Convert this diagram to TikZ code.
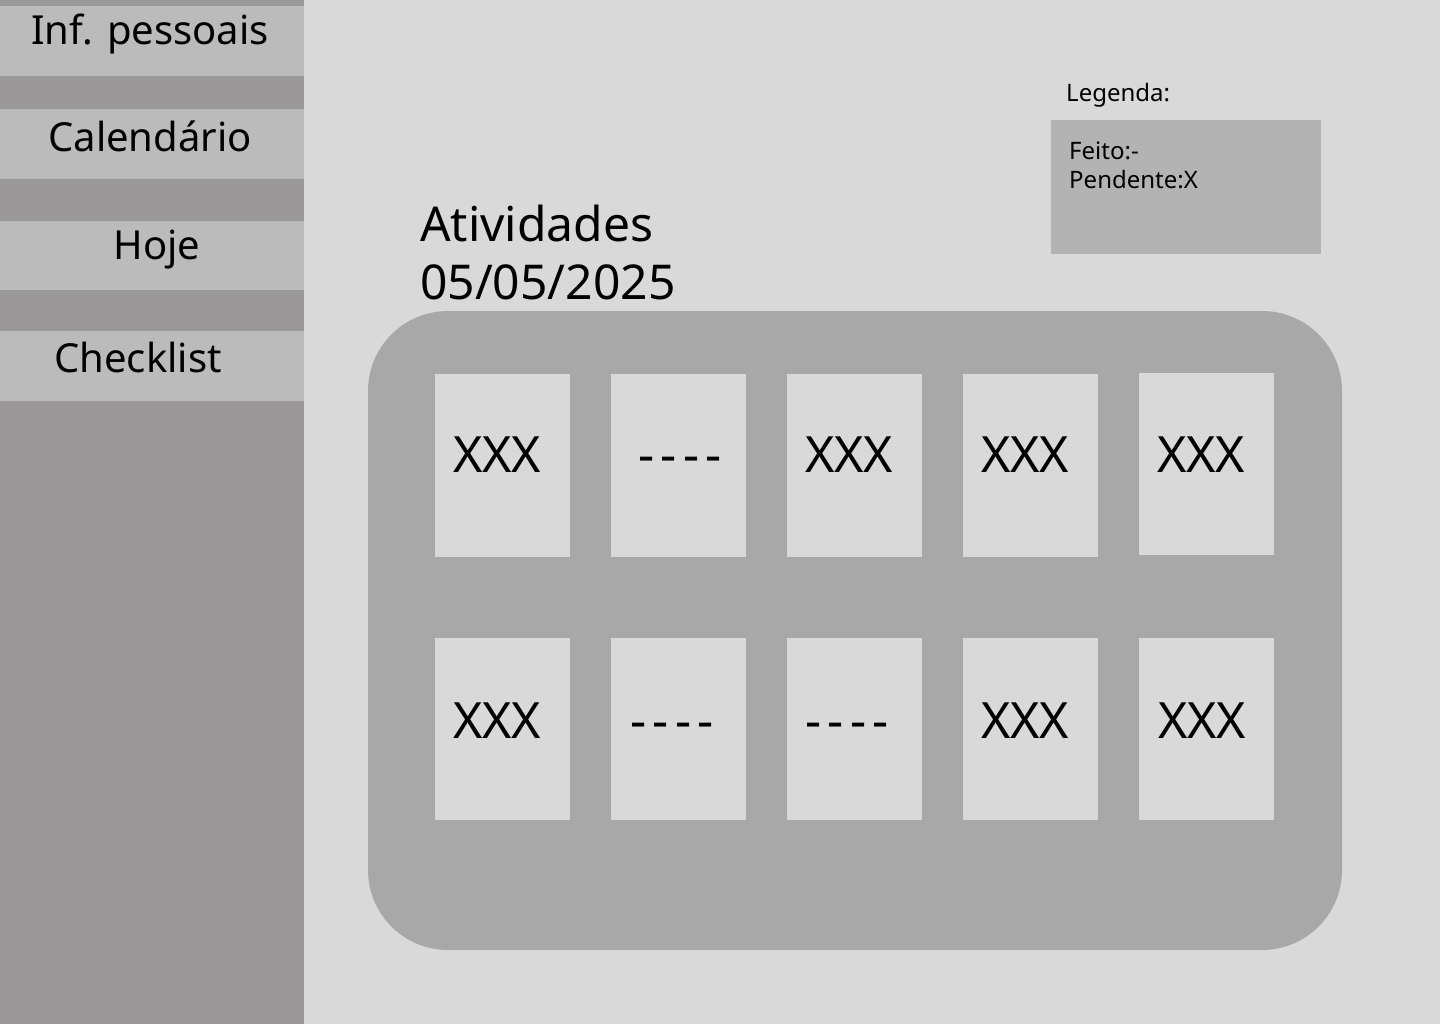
\documentclass[tikz,border=0pt]{standalone}
\usepackage{fontspec}
\setmainfont{Noto Sans}
\definecolor{mainbg}{HTML}{D9D9D9}
\definecolor{sidebg}{HTML}{9A9899}
\definecolor{btnbg}{HTML}{BBBBBB}
\definecolor{panelbg}{HTML}{A8A8A8}
\definecolor{legbg}{HTML}{B3B3B3}
\newcommand{\dsh}{-\kern6pt-\kern6pt-\kern6pt-}
\begin{document}
\begin{tikzpicture}[x=1pt,y=-1pt,
  btn/.style={fill=btnbg,draw=none},
  card/.style={fill=mainbg,draw=none},
  big/.style={font=\fontsize{40}{48}\selectfont,anchor=base,inner sep=0pt},
  cardtxt/.style={font=\fontsize{50}{58}\selectfont,anchor=base,inner sep=0pt},
  small/.style={font=\fontsize{24}{29}\selectfont,anchor=base west,inner sep=0pt},
  title/.style={font=\fontsize{48}{57}\selectfont,anchor=base west,inner sep=0pt},
]
\useasboundingbox (0,0) rectangle (1440,1024);
\fill[mainbg] (0,0) rectangle (1440,1024);
\fill[sidebg] (0,0) rectangle (304,1024);
% menu buttons
\fill[btn] (0,6) rectangle (304,76);
\fill[btn] (0,109) rectangle (304,179);
\fill[btn] (0,221) rectangle (304,290);
\fill[btn] (0,331) rectangle (304,401);
\node[big] (m1) at (150,45) {Inf. pessoais};
\node[big] (m2) at (150,152) {Calendário};
\node[big] (m3) at (157,260) {Hoje};
\node[big] (m4) at (138,372) {Checklist};
% legend
\node[small] (leg) at (1066,102) {Legenda:};
\fill[legbg] (1051,120) rectangle (1321,254);
\node[small] (f1) at (1069,160) {Feito:-};
\node[small] (f2) at (1069,189) {Pendente:X};
% title
\node[title] (t1) at (420,242) {Atividades};
\node[title] (t2) at (420,299) {05/05/2025};
% panel
\fill[panelbg,rounded corners=80pt] (368,311) rectangle (1342,950);
% cards row 1
\fill[card] (435,374) rectangle (570,557);
\fill[card] (611,374) rectangle (746,557);
\fill[card] (787,374) rectangle (922,557);
\fill[card] (963,374) rectangle (1098,557);
\fill[card] (1139,373) rectangle (1274,555);
% cards row 2
\fill[card] (435,638) rectangle (570,820);
\fill[card] (611,638) rectangle (746,820);
\fill[card] (787,638) rectangle (922,820);
\fill[card] (963,638) rectangle (1098,820);
\fill[card] (1139,638) rectangle (1274,820);
% texts
\node[cardtxt] (a1) at (497,472) {XXX};
\node[cardtxt] (a2) at (680,472) {\dsh};
\node[cardtxt] (a3) at (849,472) {XXX};
\node[cardtxt] (a4) at (1025,472) {XXX};
\node[cardtxt] (a5) at (1201,472) {XXX};
\node[cardtxt] (b1) at (497,738) {XXX};
\node[cardtxt] (b2) at (672,738) {\dsh};
\node[cardtxt] (b3) at (847,738) {\dsh};
\node[cardtxt] (b4) at (1025,738) {XXX};
\node[cardtxt] (b5) at (1202,738) {XXX};
\end{tikzpicture}
\end{document}
